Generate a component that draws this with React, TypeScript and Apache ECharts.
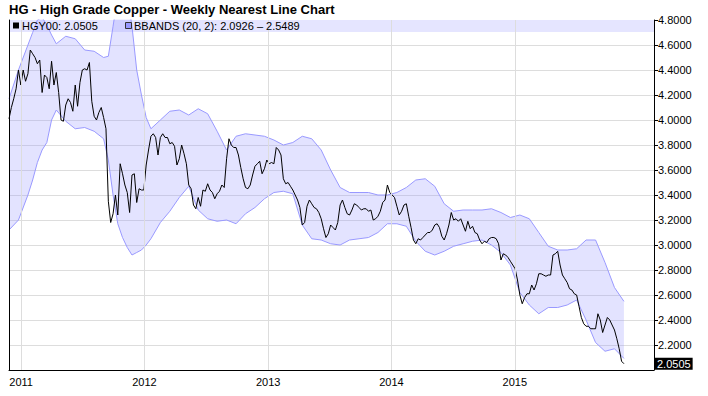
import React, { useEffect, useRef } from 'react';
import * as echarts from 'echarts';

const TITLE = 'HG - High Grade Copper - Weekly Nearest Line Chart';
const PRICE_LEGEND = 'HGY00: 2.0505';
const BAND_LEGEND = 'BBANDS (20, 2): 2.0926 \u2013 2.5489';
const LAST_PRICE = 2.0505;
const YEAR_TICKS = [2011, 2012, 2013, 2014, 2015];

// weekly closes, first week 2010-11-26
const priceValues = [
  4.01, 4.10, 4.17, 4.25, 4.40, 4.28, 4.40, 4.31, 4.37, 4.56,
  4.53, 4.50, 4.45, 4.48, 4.22, 4.36, 4.34, 4.25, 4.47, 4.28,
  4.38, 4.22, 4.00, 3.99, 4.12, 4.17, 4.14, 4.07, 4.28, 4.11,
  4.30, 4.40, 4.41, 4.40, 4.46, 4.15, 4.03, 4.00, 4.06, 4.10,
  4.02, 3.93, 3.35, 3.18, 3.25, 3.40, 3.24, 3.65, 3.57, 3.48,
  3.42, 3.26, 3.56, 3.57, 3.34, 3.45, 3.44, 3.44, 3.64, 3.76,
  3.87, 3.89, 3.86, 3.72, 3.86, 3.89, 3.86, 3.86, 3.81, 3.82,
  3.79, 3.64, 3.69, 3.80, 3.73, 3.65, 3.48, 3.45, 3.32, 3.29,
  3.38, 3.31, 3.44, 3.43, 3.49, 3.44, 3.42, 3.37, 3.41, 3.43,
  3.48, 3.46, 3.69, 3.85, 3.80, 3.78, 3.78, 3.72, 3.62, 3.53,
  3.46, 3.45, 3.48, 3.56, 3.63, 3.65, 3.67, 3.57, 3.61, 3.68,
  3.65, 3.66, 3.65, 3.78, 3.76, 3.72, 3.53, 3.49, 3.50, 3.47,
  3.44, 3.40, 3.36, 3.30, 3.16, 3.18, 3.31, 3.36, 3.33, 3.30,
  3.29, 3.26, 3.21, 3.13, 3.06, 3.09, 3.16, 3.14, 3.12, 3.18,
  3.32, 3.36, 3.30, 3.25, 3.24, 3.28, 3.33, 3.32, 3.30, 3.28,
  3.29, 3.29, 3.27, 3.28, 3.20, 3.21, 3.23, 3.27, 3.34, 3.36,
  3.48, 3.42, 3.40, 3.38, 3.31, 3.24, 3.27, 3.32, 3.33, 3.23,
  3.14, 3.04, 3.01, 3.05, 3.04, 3.06, 3.08, 3.10, 3.10, 3.12,
  3.16, 3.17, 3.14, 3.07, 3.04, 3.09, 3.16, 3.26, 3.20, 3.21,
  3.19, 3.21, 3.16, 3.11, 3.19, 3.13, 3.15, 3.10, 3.09, 3.04,
  3.01, 3.03, 3.02, 3.05, 3.06, 3.06, 3.05, 3.01, 2.88, 2.93,
  2.92, 2.90, 2.87, 2.84, 2.81, 2.72, 2.60, 2.53, 2.58, 2.61,
  2.61, 2.68, 2.64, 2.69, 2.77, 2.77, 2.76, 2.75, 2.76, 2.76,
  2.92, 2.93, 2.95, 2.84, 2.76, 2.73, 2.70, 2.65, 2.64, 2.61,
  2.60, 2.51, 2.42, 2.37, 2.35, 2.35, 2.33, 2.33, 2.33, 2.45,
  2.40, 2.30, 2.36, 2.42, 2.40, 2.36, 2.32, 2.25, 2.17, 2.07, 2.0505,
];

// Bollinger band samples (week index from first week)
const bandWeeks = [
  0, 4, 8, 10, 12, 14, 16, 18, 20, 24, 28, 32, 36, 40, 42, 44, 46, 48, 50, 52,
  54, 56, 58, 60, 64, 68, 72, 76, 80, 84, 88, 92, 96, 100, 104, 108, 112, 116,
  120, 124, 128, 132, 136, 140, 144, 148, 152, 156, 160, 164, 168, 172, 176,
  180, 184, 188, 192, 196, 200, 204, 208, 212, 216, 220, 224, 228, 232, 236,
  240, 244, 248, 252, 256, 260,
];
const bandUpper = [
  4.17, 4.40, 4.60, 4.70, 4.80, 4.82, 4.76, 4.68, 4.61, 4.67, 4.65, 4.56, 4.55,
  4.50, 4.51, 4.75, 5.00, 5.08, 5.00, 4.75, 4.40, 4.20, 4.02, 3.93, 4.00, 4.07,
  4.08, 4.04, 4.09, 4.05, 3.91, 3.76, 3.87, 3.89, 3.88, 3.87, 3.84, 3.80, 3.82,
  3.87, 3.85, 3.76, 3.60, 3.46, 3.42, 3.42, 3.42, 3.40, 3.40, 3.42, 3.46, 3.52,
  3.53, 3.47, 3.33, 3.27, 3.28, 3.28, 3.28, 3.29, 3.26, 3.22, 3.24, 3.21, 3.10,
  2.99, 2.96, 2.96, 2.97, 3.04, 3.04, 2.86, 2.66, 2.5489,
];
const bandLower = [
  3.12, 3.20, 3.40, 3.52, 3.66, 3.76, 3.82, 4.00, 4.08, 3.99, 3.93, 3.94, 3.91,
  3.85, 3.68, 3.40, 3.17, 3.06, 2.98, 2.92, 2.94, 2.96, 3.00, 3.05, 3.18, 3.27,
  3.38, 3.47, 3.28, 3.21, 3.19, 3.20, 3.17, 3.25, 3.30, 3.37, 3.42, 3.43, 3.41,
  3.16, 3.05, 3.04, 3.01, 3.00, 3.04, 3.05, 3.06, 3.10, 3.17, 3.17, 3.15, 3.03,
  2.95, 2.92, 2.95, 2.99, 3.01, 3.03, 3.04, 3.00, 2.94, 2.84, 2.62, 2.52, 2.45,
  2.50, 2.50, 2.52, 2.56, 2.40, 2.22, 2.15, 2.17, 2.0926,
];

const Y_MIN = 2.0;
const Y_MAX = 4.8;
const Y_STEP = 0.2;

const FONT = 'Liberation Sans, Arial, sans-serif';
const DAY = 24 * 3600 * 1000;
const weekDate = (i: number) => new Date(2010, 10, 26 + 7 * i).getTime();
const X_MIN = weekDate(0);
const X_MAX = new Date(2016, 1, 17).getTime();
const yearTs = YEAR_TICKS.map((y) => new Date(y, 0, 1).getTime());

export default function App() {
  const ref = useRef<HTMLDivElement>(null);
  useEffect(() => {
    if (!ref.current) return;
    const chart = echarts.init(ref.current, null, { renderer: 'svg' });
    const priceData = priceValues.map((v, i) => [weekDate(i), v]);
    const lowerData = bandWeeks.map((w, k) => [weekDate(w), bandLower[k]]);
    const widthData = bandWeeks.map((w, k) => [weekDate(w), +(bandUpper[k] - bandLower[k]).toFixed(4)]);
    chart.setOption({
      animation: false,
      grid: { left: 9, right: 54, top: 20, bottom: 26 },
      graphic: {
        elements: [
          { type: 'rect', z: 1, shape: { x: 9, y: 20, width: 645, height: 12 }, style: { fill: '#E5E5FF' } },
          { type: 'text', z: 10, x: 9, y: 9, style: { text: TITLE, font: `bold 13px ${FONT}`, fill: '#000', verticalAlign: 'middle' } },
          { type: 'rect', z: 10, shape: { x: 13, y: 22.5, width: 6, height: 6 }, style: { fill: '#000' } },
          { type: 'text', z: 10, x: 22, y: 26, style: { text: PRICE_LEGEND, font: `11px ${FONT}`, fill: '#000', verticalAlign: 'middle' } },
          { type: 'rect', z: 10, shape: { x: 125.5, y: 22.5, width: 6, height: 6 }, style: { fill: '#9999FF', stroke: '#333', lineWidth: 1 } },
          { type: 'text', z: 10, x: 134, y: 26, style: { text: BAND_LEGEND, font: `11px ${FONT}`, fill: '#000', verticalAlign: 'middle' } },
        ],
      },
      xAxis: {
        type: 'time',
        min: X_MIN,
        max: X_MAX,
        minInterval: 365 * DAY,
        maxInterval: 366 * DAY,
        axisLine: { show: true, lineStyle: { color: '#000', width: 1 } },
        axisTick: { show: false },
        axisLabel: {
          formatter: (v: number) => {
            const y = new Date(v).getFullYear();
            return YEAR_TICKS.indexOf(y) >= 0 ? String(y) : '';
          },
          color: '#000',
          fontSize: 11,
          fontFamily: FONT,
          margin: 6,
        },
        splitLine: { show: false },
      },
      yAxis: [
        {
          type: 'value',
          position: 'right',
          min: Y_MIN,
          max: Y_MAX,
          interval: Y_STEP,
          axisLine: { show: true, lineStyle: { color: '#000', width: 1 } },
          axisTick: { show: true, length: 4, lineStyle: { color: '#000' } },
          axisLabel: {
            formatter: (v: number) => v.toFixed(4),
            showMinLabel: false,
            color: '#000',
            fontSize: 11,
            fontFamily: FONT,
            margin: 4,
          },
          splitLine: { show: true, lineStyle: { color: '#DDDDDD', width: 1 } },
        },
        {
          type: 'value',
          position: 'left',
          z: 5,
          min: Y_MIN,
          max: Y_MAX,
          interval: Y_STEP,
          axisLine: { show: true, lineStyle: { color: '#000', width: 1 } },
          axisTick: { show: false },
          axisLabel: { show: false },
          splitLine: { show: false },
        },
      ],
      series: [
        {
          type: 'line',
          name: 'lower',
          data: lowerData,
          stack: 'bb',
          symbol: 'none',
          z: 2,
          lineStyle: { color: '#9999FF', width: 1 },
          markLine: {
            silent: true,
            symbol: 'none',
            animation: false,
            label: { show: false },
            lineStyle: { color: '#DDDDDD', width: 1, type: 'solid' },
            data: yearTs.map((t) => ({ xAxis: t })),
          },
        },
        {
          type: 'line',
          name: 'upper',
          data: widthData,
          stack: 'bb',
          symbol: 'none',
          z: 2,
          lineStyle: { color: '#9999FF', width: 1 },
          areaStyle: { color: 'rgba(153,153,255,0.4)' },
        },
        {
          type: 'line',
          name: 'HGY00',
          data: priceData,
          symbol: 'none',
          z: 3,
          lineStyle: { color: '#000', width: 1 },
          markLine: {
            silent: true,
            symbol: 'none',
            animation: false,
            lineStyle: { color: 'rgba(0,0,0,0)', width: 1, type: 'solid' },
            data: [{ yAxis: LAST_PRICE }],
            label: {
              show: true,
              position: 'end',
              distance: 1,
              formatter: LAST_PRICE.toFixed(4),
              color: '#fff',
              backgroundColor: '#000',
              padding: [1, 2, 0, 2],
              fontSize: 11,
              fontFamily: FONT,
            },
          },
        },
      ],
    });
    return () => chart.dispose();
  }, []);
  return <div ref={ref} style={{ position: 'absolute', left: 0, top: 0, width: 708, height: 396 }} />;
}
